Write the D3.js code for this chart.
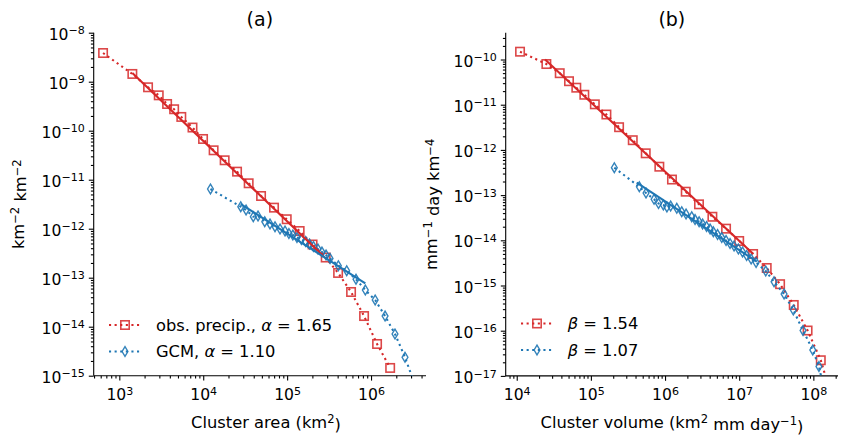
<!DOCTYPE html>
<html>
<head>
<meta charset="utf-8">
<script src="https://cdn.jsdelivr.net/npm/d3@7"></script>
<style>
  body { margin: 0; background: #fff; }
  svg { display: block; }
  text { font-family: "DejaVu Sans", sans-serif; fill: #000; }
</style>
</head>
<body>
<svg id="chart" width="845" height="435"></svg>
<script>
// ---- Panel (a): cluster area distribution ----
const obsArea = [640, 1430, 2200, 2950, 3710, 4500, 5480, 7450, 9950, 13300, 18000, 25300,
  34800, 48900, 69800, 98900, 141000, 201000, 288000, 405000, 578000, 826000, 1.18e6, 1.69e6];
const obsAreaDensity = [3.85e-9, 1.44e-9, 7.69e-10, 5.27e-10, 3.51e-10, 2.74e-10, 1.91e-10, 1.16e-10,
  6.78e-11, 3.98e-11, 2.49e-11, 1.46e-11, 8.45e-12, 4.65e-12, 2.69e-12, 1.56e-12, 8.97e-13, 4.76e-13,
  2.58e-13, 1.25e-13, 5.11e-14, 1.65e-14, 4.44e-15, 1.44e-15];

const gcmArea = [12200, 28000, 32400, 39500, 45000, 54100, 62500, 71700, 82300, 94400, 105000, 117000,
  131000, 148000, 166000, 185000, 206000, 233000, 260000, 291000, 325000, 408000, 513000, 662000,
  855000, 1.12e6, 1.47e6, 1.93e6, 2.54e6, 3.34e6];
const gcmAreaDensity = [6.46e-12, 2.81e-12, 2.41e-12, 1.76e-12, 1.82e-12, 1.39e-12, 1.25e-12, 1.10e-12,
  9.86e-13, 8.97e-13, 7.98e-13, 7.43e-13, 6.61e-13, 6.02e-13, 5.48e-13, 4.88e-13, 4.34e-13, 3.85e-13,
  3.34e-13, 2.90e-13, 2.47e-13, 1.76e-13, 1.39e-13, 9.27e-14, 5.61e-14, 3.51e-14, 1.65e-14, 7.10e-15,
  2.38e-15, 6.45e-16];

// power-law fits: [start, end] in (area, density)
const obsAreaFitX = [1430, 270000];
const obsAreaFitY = [1.51e-9, 2.77e-13];
const gcmAreaFitX = [28000, 855000];
const gcmAreaFitY = [3.18e-12, 7.69e-14];

// ---- Panel (b): cluster volume distribution ----
const obsVolume = [11080, 25100, 38000, 50700, 63600, 81600, 113000, 162000, 240000, 367000, 549000,
  838000, 1.24e6, 1.90e6, 2.87e6, 4.35e6, 6.65e6, 1.00e7, 1.54e7, 2.35e7, 3.56e7, 5.44e7, 8.36e7,
  1.26e8, 1.58e8];
const obsVolumeDensity = [1.49e-10, 7.95e-11, 4.98e-11, 3.31e-11, 2.38e-11, 1.66e-11, 1.02e-11, 6.07e-12,
  3.18e-12, 1.64e-12, 8.41e-13, 4.25e-13, 2.21e-13, 1.19e-13, 6.25e-14, 3.32e-14, 1.81e-14, 9.66e-15,
  4.98e-15, 2.44e-15, 1.07e-15, 3.71e-16, 1.01e-16, 2.22e-17, 6.3e-18];

const gcmVolume = [207000, 450000, 554000, 711000, 817000, 949000, 1.06e6, 1.19e6, 1.44e6, 1.68e6,
  1.92e6, 2.29e6, 2.54e6, 2.88e6, 3.21e6, 3.63e6, 4.05e6, 4.48e6, 5.11e6, 5.82e6, 6.65e6, 7.53e6,
  8.53e6, 9.75e6, 1.11e7, 1.26e7, 1.45e7, 1.69e7, 2.28e7, 2.95e7, 4.03e7, 5.37e7, 7.26e7, 9.82e7,
  1.19e8, 1.35e8];
const gcmVolumeDensity = [4.04e-13, 1.53e-13, 1.11e-13, 8.07e-14, 6.52e-14, 6.04e-14, 5.46e-14, 5.74e-14,
  5.11e-14, 4.30e-14, 3.82e-14, 3.33e-14, 2.88e-14, 2.58e-14, 2.30e-14, 2.02e-14, 1.78e-14, 1.55e-14,
  1.34e-14, 1.15e-14, 9.90e-15, 8.50e-15, 7.48e-15, 6.42e-15, 5.51e-15, 4.61e-15, 3.86e-15, 3.23e-15,
  2.09e-15, 1.21e-15, 6.49e-16, 2.87e-16, 1.01e-16, 3.74e-17, 1.61e-17, 6.3e-18];

const obsVolumeFitX = [24100, 1.55e7];
const obsVolumeFitY = [1.0e-10, 4.98e-15];
const gcmVolumeFitX = [415000, 1.73e7];
const gcmVolumeFitY = [1.88e-13, 3.37e-15];

// ---- Axes extents and ticks ----
const areaDomain = [495, 4.52e6];
const areaDensityDomain = [1e-15, 1e-8];
const volumeDomain = [7.1e3, 2.15e8];
const volumeDensityDomain = [1e-17, 3.92e-10];
const areaTicks = [1e3, 1e4, 1e5, 1e6];
const areaDensityTicks = [1e-15, 1e-14, 1e-13, 1e-12, 1e-11, 1e-10, 1e-9, 1e-8];
const volumeTicks = [1e4, 1e5, 1e6, 1e7, 1e8];
const volumeDensityTicks = [1e-17, 1e-16, 1e-15, 1e-14, 1e-13, 1e-12, 1e-11, 1e-10];

const RED = "#d62728";
const BLUE = "#1f77b4";
const TICK_FS = 15.6;
const LABEL_FS = 16.3;
const LEGEND_FS = 16.3;
const TITLE_FS = 19;

const svg = d3.select("#chart");

function minorTicks(domain) {
  const out = [];
  const lo = Math.floor(Math.log10(domain[0])), hi = Math.ceil(Math.log10(domain[1]));
  for (let e = lo; e <= hi; e++) {
    for (let m = 2; m <= 9; m++) {
      const v = m * Math.pow(10, e);
      if (v >= domain[0] && v <= domain[1]) out.push(v);
    }
  }
  return out;
}

function powerLabel(textSel) {
  textSel.each(function(d) {
    const e = Math.round(Math.log10(d));
    const t = d3.select(this);
    t.text(null);
    t.append("tspan").text("10");
    t.append("tspan").attr("dy", "-0.48em").attr("font-size", "0.71em")
      .text(e < 0 ? "\u2212" + (-e) : String(e));
  });
}

function drawPanel(cfg) {
  const x = d3.scaleLog().domain(cfg.xDomain).range(cfg.xRange);
  const y = d3.scaleLog().domain(cfg.yDomain).range(cfg.yRange);
  const g = svg.append("g");

  const clipId = "clip-" + cfg.id;
  svg.append("clipPath").attr("id", clipId).append("rect")
    .attr("x", cfg.xRange[0]).attr("y", cfg.yRange[1])
    .attr("width", cfg.xRange[1] - cfg.xRange[0])
    .attr("height", cfg.yRange[0] - cfg.yRange[1]);

  // x axis: minor then major ticks
  const xa = g.append("g").attr("transform", `translate(0,${cfg.yRange[0]})`);
  xa.append("g").call(d3.axisBottom(x).tickValues(minorTicks(cfg.xDomain)).tickSize(2.8).tickFormat(() => ""));
  const xMajor = xa.append("g").call(d3.axisBottom(x).tickValues(cfg.xTicks).tickSize(4.9).tickPadding(4));
  // y axis
  const ya = g.append("g").attr("transform", `translate(${cfg.xRange[0]},0)`);
  ya.append("g").call(d3.axisLeft(y).tickValues(minorTicks(cfg.yDomain)).tickSize(2.8).tickFormat(() => ""));
  const yMajor = ya.append("g").call(d3.axisLeft(y).tickValues(cfg.yTicks).tickSize(4.9).tickPadding(4));

  g.selectAll(".domain").remove();
  g.selectAll(".tick line").attr("stroke", "#000").attr("stroke-width", 1.1);
  xMajor.selectAll(".tick text").attr("font-size", TICK_FS).attr("dy", "1.0em").call(powerLabel);
  yMajor.selectAll(".tick text").attr("font-size", TICK_FS).attr("dy", "0.42em").call(powerLabel);

  // spines (left and bottom only)
  g.append("line").attr("x1", cfg.xRange[0]).attr("x2", cfg.xRange[1])
    .attr("y1", cfg.yRange[0]).attr("y2", cfg.yRange[0]).attr("stroke", "#000").attr("stroke-width", 1.1);
  g.append("line").attr("x1", cfg.xRange[0]).attr("x2", cfg.xRange[0])
    .attr("y1", cfg.yRange[0]).attr("y2", cfg.yRange[1]).attr("stroke", "#000").attr("stroke-width", 1.1);

  const plot = g.append("g").attr("clip-path", `url(#${clipId})`);
  const line = d3.line().x(d => x(d[0])).y(d => y(d[1]));

  cfg.series.forEach(s => {
    const pts = d3.zip(s.x, s.y);
    plot.append("path").attr("d", line(pts)).attr("fill", "none")
      .attr("stroke", s.color).attr("stroke-width", 2.1).attr("stroke-dasharray", "2.1,3.5");
    const m = plot.append("g");
    pts.forEach(p => drawMarker(m, s.marker, x(p[0]), y(p[1]), s.color));
  });
  cfg.fits.forEach(f => {
    plot.append("path").attr("d", line(d3.zip(f.x, f.y))).attr("fill", "none")
      .attr("stroke", f.color).attr("stroke-width", 2.1);
  });

  // title
  svg.append("text").attr("x", (cfg.xRange[0] + cfg.xRange[1]) / 2).attr("y", 26)
    .attr("text-anchor", "middle").attr("font-size", TITLE_FS).text(cfg.title);

  // x label
  const xl = svg.append("text").attr("x", cfg.xLabelX).attr("y", 428)
    .attr("text-anchor", "middle").attr("font-size", LABEL_FS);
  cfg.xLabel.forEach(p => addPart(xl, p));
  // y label
  const yl = svg.append("text")
    .attr("transform", `translate(${cfg.yLabelX},${(cfg.yRange[0] + cfg.yRange[1]) / 2}) rotate(-90)`)
    .attr("text-anchor", "middle").attr("font-size", LABEL_FS);
  cfg.yLabel.forEach(p => addPart(yl, p));

  // legend
  cfg.legend.forEach((item, i) => {
    const ly = cfg.legendY[i];
    svg.append("line").attr("x1", cfg.legendX[0]).attr("x2", cfg.legendX[1])
      .attr("y1", ly).attr("y2", ly).attr("stroke", item.color).attr("stroke-width", 2.1)
      .attr("stroke-dasharray", "2.1,3.5");
    drawMarker(svg, item.marker, (cfg.legendX[0] + cfg.legendX[1]) / 2, ly, item.color);
    const t = svg.append("text").attr("x", cfg.legendTextX).attr("y", ly).attr("dy", "0.36em")
      .attr("font-size", LEGEND_FS);
    item.label.forEach(p => addPart(t, p));
  });
}

function addPart(textSel, p) {
  const ts = textSel.append("tspan").text(p.t);
  if (p.sup) ts.attr("dy", "-0.45em").attr("font-size", "0.71em");
  if (p.down) ts.attr("dy", "0.45em");
  if (p.it) ts.attr("font-style", "italic");
}

function drawMarker(sel, type, cx, cy, color) {
  if (type === "square") {
    const s = 8.4;
    sel.append("rect").attr("x", cx - s / 2).attr("y", cy - s / 2).attr("width", s).attr("height", s)
      .attr("fill", "none").attr("stroke", color).attr("stroke-width", 1.6).attr("stroke-opacity", 0.85);
  } else {
    const h = 4.9, w = 2.9;
    sel.append("path").attr("d", `M${cx},${cy - h}L${cx + w},${cy}L${cx},${cy + h}L${cx - w},${cy}Z`)
      .attr("fill", "none").attr("stroke", color).attr("stroke-width", 1.4).attr("stroke-opacity", 0.9);
  }
}

drawPanel({
  id: "a", title: "(a)",
  xDomain: areaDomain, yDomain: areaDensityDomain,
  xRange: [93.7, 426], yRange: [375.7, 32.7],
  xTicks: areaTicks, yTicks: areaDensityTicks,
  series: [
    { x: obsArea, y: obsAreaDensity, color: RED, marker: "square" },
    { x: gcmArea, y: gcmAreaDensity, color: BLUE, marker: "diamond" }
  ],
  fits: [
    { x: obsAreaFitX, y: obsAreaFitY, color: RED },
    { x: gcmAreaFitX, y: gcmAreaFitY, color: BLUE }
  ],
  xLabel: [{ t: "Cluster area (km" }, { t: "2", sup: true }, { t: ")", down: true }],
  xLabelX: 266,
  yLabel: [{ t: "km" }, { t: "\u22122", sup: true }, { t: " km", down: true }, { t: "\u22122", sup: true }],
  yLabelX: 24,
  legend: [
    { color: RED, marker: "square", label: [{ t: "obs. precip., " }, { t: "\u03b1", it: true }, { t: " = 1.65" }] },
    { color: BLUE, marker: "diamond", label: [{ t: "GCM, " }, { t: "\u03b1", it: true }, { t: " = 1.10" }] }
  ],
  legendX: [109, 141], legendY: [325, 351.5], legendTextX: 156
});

drawPanel({
  id: "b", title: "(b)",
  xDomain: volumeDomain, yDomain: volumeDensityDomain,
  xRange: [505.7, 838], yRange: [375.9, 32.7],
  xTicks: volumeTicks, yTicks: volumeDensityTicks,
  series: [
    { x: obsVolume, y: obsVolumeDensity, color: RED, marker: "square" },
    { x: gcmVolume, y: gcmVolumeDensity, color: BLUE, marker: "diamond" }
  ],
  fits: [
    { x: obsVolumeFitX, y: obsVolumeFitY, color: RED },
    { x: gcmVolumeFitX, y: gcmVolumeFitY, color: BLUE }
  ],
  xLabel: [{ t: "Cluster volume (km" }, { t: "2", sup: true }, { t: " mm day", down: true }, { t: "\u22121", sup: true }, { t: ")", down: true }],
  xLabelX: 672,
  yLabel: [{ t: "mm" }, { t: "\u22121", sup: true }, { t: " day km", down: true }, { t: "\u22124", sup: true }],
  yLabelX: 437,
  legend: [
    { color: RED, marker: "square", label: [{ t: "\u03b2", it: true }, { t: " = 1.54" }] },
    { color: BLUE, marker: "diamond", label: [{ t: "\u03b2", it: true }, { t: " = 1.07" }] }
  ],
  legendX: [521, 553], legendY: [323.5, 350], legendTextX: 567.7
});
</script>
</body>
</html>
